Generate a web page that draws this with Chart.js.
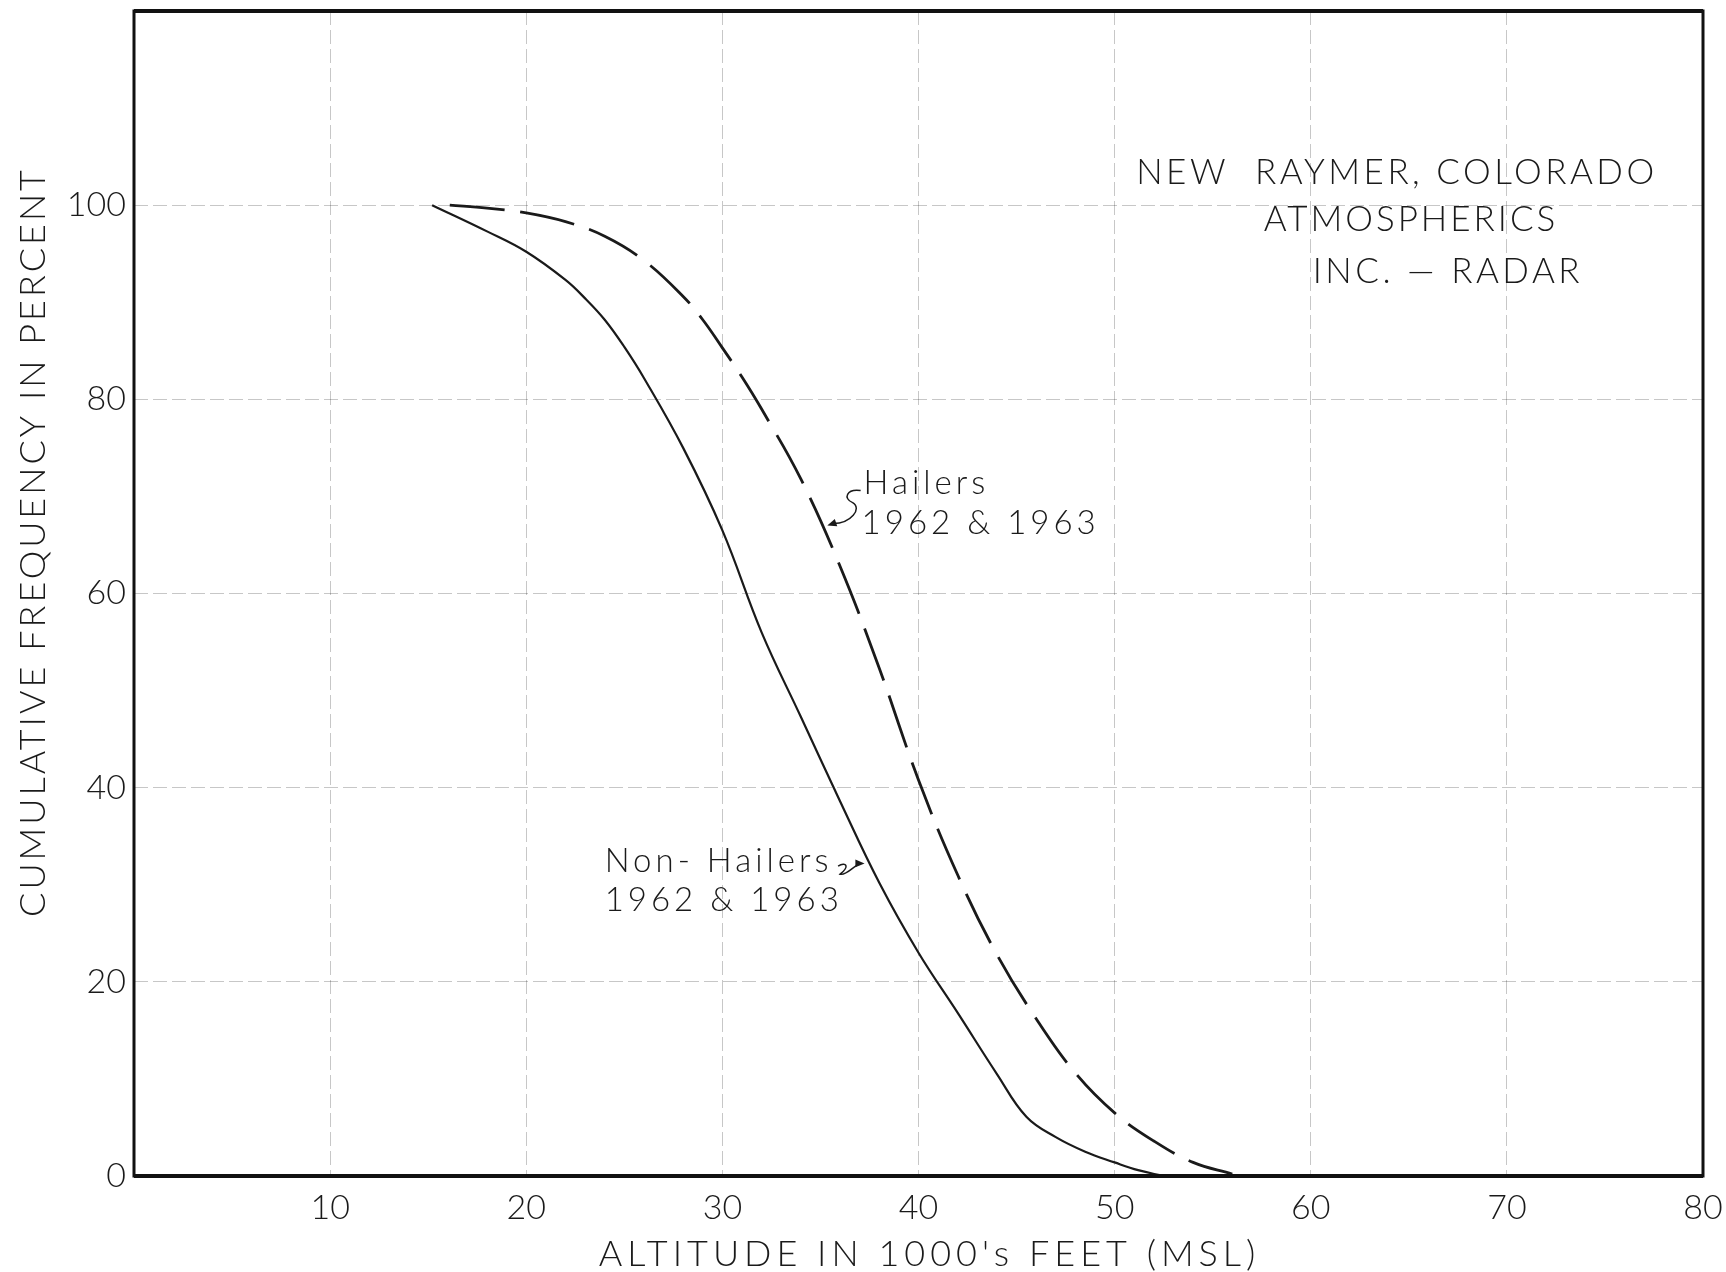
<!DOCTYPE html>
<html>
<head>
<meta charset="utf-8">
<script src="https://cdn.jsdelivr.net/npm/chart.js@4.4.1/dist/chart.umd.min.js"></script>
<style>
  body { margin: 0; background: #fff; }
</style>
</head>
<body>
<canvas id="altChart" width="1726" height="1272"></canvas>
<script>
// altitude (1000's ft MSL) vs cumulative frequency (%)
const nonHailAlt = [15.2, 18, 20, 22, 23, 24, 25, 26, 28, 30, 32, 34, 36, 38, 40, 42, 44, 45.5, 47, 48.5, 50, 51.2, 52.5];
const nonHailPct = [100, 97.3, 95.2, 92.3, 90.4, 88.2, 85.4, 82.2, 75, 66.5, 56, 47.3, 38.6, 30.2, 23, 16.8, 10.5, 6.1, 4.0, 2.5, 1.4, 0.6, 0];

const hailAlt = [16.1, 18, 20, 22, 24, 26, 28, 29, 30, 31, 32, 34, 36, 38, 40, 42, 44, 46, 48, 50, 52, 54, 56];
const hailPct = [100, 99.7, 99.2, 98.3, 96.8, 94.3, 90.6, 88.2, 85.3, 82.3, 79, 71.8, 62.8, 52.3, 40.8, 31, 22.8, 16.2, 10.6, 6.5, 3.6, 1.4, 0.2];

const xTicks = [0, 10, 20, 30, 40, 50, 60, 70, 80];
const yTicks = [0, 20, 40, 60, 80, 100, 120];

const yTitle = 'CUMULATIVE FREQUENCY IN PERCENT';
const xTitle = "ALTITUDE IN 1000's FEET (MSL)";

// text notes anchored in data units
const notes = [
  { text: 'NEW  RAYMER, COLORADO', x: 51.1, y: 103.3, size: 35, gap: 3.5 },
  { text: 'ATMOSPHERICS', x: 57.6, y: 98.5, size: 35, gap: 3 },
  { text: 'INC. \u2014 RADAR', x: 60.1, y: 93.1, size: 35, gap: 3.5 },
  { text: 'Hailers', x: 37.2, y: 71.3, size: 33, gap: 4 },
  { text: '1962 & 1963', x: 37.1, y: 67.2, size: 33, gap: 4 },
  { text: 'Non- Hailers', x: 24.0, y: 32.4, size: 33, gap: 4 },
  { text: '1962 & 1963', x: 24.0, y: 28.4, size: 33, gap: 4 }
];

const ink = '#1a1a1a';
const fontFam = 'Lato, "Liberation Sans", sans-serif';

function toPoints(xs, ys) {
  return xs.map((v, i) => ({ x: v, y: ys[i] }));
}

function arrowHead(ctx, fx, fy, tx, ty) {
  const ang = Math.atan2(ty - fy, tx - fx);
  ctx.beginPath();
  ctx.moveTo(tx, ty);
  ctx.lineTo(tx - 10 * Math.cos(ang - 0.4), ty - 10 * Math.sin(ang - 0.4));
  ctx.lineTo(tx - 10 * Math.cos(ang + 0.4), ty - 10 * Math.sin(ang + 0.4));
  ctx.closePath();
  ctx.fill();
}

const paperInk = {
  id: 'paperInk',
  afterDatasetsDraw(chart) {
    const { ctx, chartArea: a, scales: { x, y } } = chart;
    ctx.save();
    // heavy frame
    ctx.strokeStyle = '#111';
    ctx.lineWidth = 3;
    ctx.strokeRect(a.left, a.top, a.right - a.left, a.bottom - a.top);
    ctx.lineWidth = 4;
    ctx.beginPath();
    ctx.moveTo(a.left, a.bottom);
    ctx.lineTo(a.right, a.bottom);
    ctx.moveTo(a.left, a.top);
    ctx.lineTo(a.right, a.top);
    ctx.stroke();

    // notes
    ctx.fillStyle = ink;
    ctx.textBaseline = 'middle';
    ctx.textAlign = 'left';
    notes.forEach(n => {
      ctx.font = '300 ' + n.size + 'px ' + fontFam;
      ctx.letterSpacing = n.gap + 'px';
      ctx.fillText(n.text, x.getPixelForValue(n.x), y.getPixelForValue(n.y));
    });

    // leader squiggles
    ctx.lineWidth = 1.5;
    ctx.strokeStyle = ink;
    let sx = x.getPixelForValue(37.05), sy = y.getPixelForValue(70.6);
    let ex = x.getPixelForValue(35.35), ey = y.getPixelForValue(67.0);
    ctx.beginPath();
    ctx.moveTo(sx, sy);
    ctx.bezierCurveTo(sx - 14, sy - 2, sx - 18, sy + 8, sx - 8, sy + 12);
    ctx.bezierCurveTo(sx + 2, sy + 18, sx - 10, ey - 2, ex + 6, ey - 2);
    ctx.stroke();
    arrowHead(ctx, ex + 12, ey - 4, ex, ey);

    sx = x.getPixelForValue(35.9); sy = y.getPixelForValue(31.5);
    ex = x.getPixelForValue(37.25); ey = y.getPixelForValue(32.2);
    ctx.beginPath();
    ctx.moveTo(sx, sy - 4);
    ctx.bezierCurveTo(sx + 8, sy - 9, sx + 12, sy - 4, sx + 2, sy + 4);
    ctx.bezierCurveTo(sx + 8, sy + 6, sx + 16, ey + 2, ex - 4, ey);
    ctx.stroke();
    arrowHead(ctx, ex - 14, ey, ex, ey);

    // axis titles, drawn by hand for the wide lettering
    ctx.textAlign = 'center';
    ctx.font = '300 36px ' + fontFam;
    ctx.letterSpacing = '5px';
    ctx.fillText(xTitle, (a.left + a.right) / 2 + 11, 1254);

    ctx.letterSpacing = '3px';
    ctx.translate(33, 542);
    ctx.rotate(-Math.PI / 2);
    ctx.fillText(yTitle, 0, 0);
    ctx.restore();
  }
};

const ctx = document.getElementById('altChart').getContext('2d');
new Chart(ctx, {
  type: 'line',
  data: {
    datasets: [
      {
        label: 'Non-Hailers 1962 & 1963',
        data: toPoints(nonHailAlt, nonHailPct),
        borderColor: ink,
        borderWidth: 2.2,
        pointRadius: 0,
        tension: 0.4,
        fill: false
      },
      {
        label: 'Hailers 1962 & 1963',
        data: toPoints(hailAlt, hailPct),
        borderColor: ink,
        borderWidth: 2.8,
        borderDash: [55, 16],
        pointRadius: 0,
        tension: 0.4,
        fill: false
      }
    ]
  },
  options: {
    responsive: false,
    animation: false,
    layout: { padding: { top: 11, right: 23, left: 0, bottom: 0 } },
    plugins: {
      legend: { display: false },
      tooltip: { enabled: false }
    },
    scales: {
      x: {
        type: 'linear',
        min: 0,
        max: 80,
        afterBuildTicks: s => { s.ticks = xTicks.map(v => ({ value: v })); },
        afterFit: s => { s.height = 96; s.paddingLeft = 0; s.paddingRight = 0; },
        ticks: {
          padding: 12,
          color: ink,
          maxRotation: 0,
          font: { family: fontFam, size: 34, weight: '300' },
          callback: v => (v === 0 ? '' : v)
        },
        grid: {
          color: 'rgba(0,0,0,0.22)',
          lineWidth: 1,
          drawTicks: false
        },
        border: { display: false, dash: [14, 5] }
      },
      y: {
        type: 'linear',
        min: 0,
        max: 120,
        afterBuildTicks: s => { s.ticks = yTicks.map(v => ({ value: v })); },
        afterFit: s => { s.width = 134; s.paddingTop = 0; s.paddingBottom = 0; },
        ticks: {
          padding: 8,
          color: ink,
          font: { family: fontFam, size: 34, weight: '300' },
          callback: v => (v === 120 ? '' : v)
        },
        grid: {
          color: 'rgba(0,0,0,0.22)',
          lineWidth: 1,
          drawTicks: false
        },
        border: { display: false, dash: [14, 5] }
      }
    }
  },
  plugins: [paperInk]
});
</script>
</body>
</html>
